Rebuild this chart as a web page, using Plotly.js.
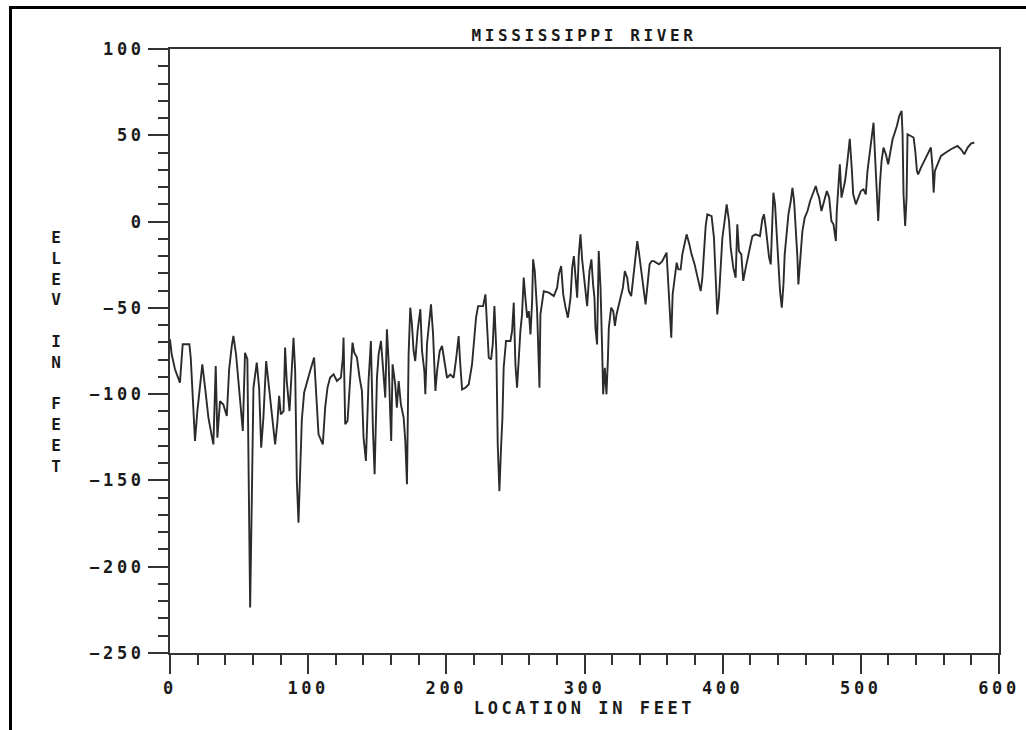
<!DOCTYPE html>
<html>
<head>
<meta charset="utf-8">
<script src="https://cdn.plot.ly/plotly-3.0.1.min.js"></script>
<style>
html,body{margin:0;padding:0;background:#fff;overflow:hidden;}
#chart{position:absolute;left:0;top:0;width:1026px;height:730px;}
#chart svg text{letter-spacing:3.6px;}
#frame{position:absolute;left:9px;top:6px;width:1100px;height:800px;border-top:3px solid #000;border-left:3px solid #000;pointer-events:none;}
</style>
</head>
<body>
<div id="chart"></div>
<div id="frame"></div>
<script>
// Location along the river (feet)
const locationFeet = [
0,1.2,3.6,7.2,9.2,14,15,16.2,18.1,19.8,21.3,23.4,25.4,27.8,30.2,31.4,33.1,34.3,36.2,38.6,
41.1,42.8,44.7,45.9,47.8,49.5,51.2,52.7,54.3,56,57,58,59.2,60.4,62.8,64.5,66,67.6,69.6,71.3,
73.2,76.1,77.8,79,80.2,82.2,83.3,84.5,86.5,87.7,89.4,90.6,91.8,93,94.2,95.4,97.1,99,101.4,104.3,
105.8,107.5,110.6,112.3,114,115.9,118.4,120.8,123.7,125.1,125.6,126.8,128.5,130.4,132.1,133.3,135.3,137.2,138.9,140.1,
141.8,143.7,145.4,146.9,148.1,149.8,151,152.7,154.1,155.8,157,158.2,159.4,160.1,161.1,163,164.2,165.5,167.1,169.1,
170.3,171.5,172.7,173.9,175.1,176.3,177.5,179.2,181.2,182.4,184.1,184.8,186,188,188.9,190.4,192.1,193.3,195.2,196.9,
198.3,200.5,202.9,205.3,207.2,208.9,210.1,211.4,213.8,216.2,218.6,219.8,221.5,223,226.6,228.3,229.5,230.7,232.4,233.6,
234.8,236.2,237.2,238.4,239.6,240.6,241.5,243.2,246.4,247.6,248.8,250,251.2,252.4,253.6,254.8,256,257.2,258.5,259.7,
260.9,262.1,262.8,264,265.7,266.9,267.4,268.1,270.5,274.2,277.8,280.2,281.4,283.1,284.6,286.3,288,289.9,291.1,292.3,
293.5,294.7,295.9,297.1,298.3,300,301.9,303.6,305,306.2,307.2,307.9,309.1,310.3,311.6,312.8,313.5,314.7,315.9,316.9,
317.6,319.3,320.8,322,323.2,324.9,326.1,327.8,329.2,330.9,332.1,333.8,335.3,337,338.2,339.4,340.6,341.8,343,344.2,
345.4,347.1,348.6,350.2,353.9,356.3,359.4,360.4,361.8,362.8,363.8,365.5,366.7,367.9,369.6,370.8,372.5,373.9,375.6,377.5,
379.7,381.6,384.1,385.3,386.5,387.7,388.9,392,393.7,394.9,396.1,397.3,398.6,399.8,401.4,402.9,404.6,405.8,407.7,409.4,
410.6,411.8,413.5,414.9,416.7,419.1,421.5,423.9,427,428.7,429.9,431.2,432.4,433.6,434.8,436,436.7,437.9,439.1,440.3,
441.5,442.8,444,444.9,446.1,447.6,449.3,450.5,451.7,452.9,454.1,454.8,456,457.7,459.4,461.4,463.3,465,467.4,468.6,
469.8,471.5,473.4,475.4,477.1,478.7,480.2,481.9,482.6,483.6,484.8,486,487.4,488.6,490.3,492,493.5,494.5,496.4,498,
500,501.9,503.6,504.8,506.8,508.5,509.2,510.1,511.4,512.6,513.8,515,516.4,518.1,519.8,521.3,523,524.2,526.1,527.8,
529.5,530.2,530.9,532.1,533.1,533.8,536.2,538.2,539.4,540.6,541.5,543.5,547.1,550.7,551.9,552.7,553.6,555.6,558,561.6,
565.2,570,572.5,574.9,577.3,579.7,582.1
];
// Elevation (feet)
const elevationFeet = [
-68.2,-76.9,-85.6,-93.3,-71.1,-71.1,-78.8,-96.2,-127.1,-109.8,-98.2,-82.7,-96.2,-113.6,-124.2,-129.1,-83.7,-125.2,-104,-106,
-112.6,-85.6,-72,-66.3,-76.9,-92.4,-108.8,-121.3,-76,-79.8,-152.3,-223.7,-161.9,-96.2,-81.7,-96.2,-131,-113.6,-80.8,-94.3,
-106.9,-129.1,-115.5,-101,-111.7,-109.8,-73,-92.4,-109.8,-88.5,-67.3,-86.6,-150.3,-174.5,-150.3,-115,-99,-93,-86.6,-78.8,
-102,-123.3,-129.1,-107.8,-96.2,-90.4,-88.5,-92.4,-90.4,-78.8,-67.2,-117.5,-115.5,-92.4,-70.1,-75.9,-78.8,-90.4,-98.1,-125.2,
-138.7,-92.4,-69.2,-121.3,-146.4,-90.4,-76.9,-69.2,-82.7,-102,-62.4,-80.8,-111.7,-127.1,-82.7,-94.3,-107.8,-92.4,-105.9,-113.6,
-127.1,-152.2,-76.9,-49.9,-59.5,-75,-80.8,-63.4,-50.8,-75,-86.6,-100.1,-71.1,-57.6,-47.9,-65.3,-98.2,-86.6,-75,-72.1,
-79,-90.5,-88.6,-90.5,-78.9,-66.3,-82.8,-97.3,-96.3,-94.4,-82.8,-71.2,-55.7,-49,-49,-42.2,-61.5,-78.9,-79.9,-71.2,
-49,-75,-129.1,-156.2,-131.1,-113.7,-84.7,-69.2,-69.2,-63.4,-47,-82.8,-96.3,-78.9,-63.4,-53.8,-32.5,-44.1,-55.7,-51.9,
-65.4,-46.1,-21.9,-28.7,-51.9,-82.8,-96.3,-53.8,-40.3,-41.2,-43.2,-38.3,-30.6,-25.8,-42.2,-49.9,-55.7,-44.1,-26.7,-20,
-34.5,-44.1,-19,-7.4,-22,-34.5,-49,-28.7,-21.9,-36.4,-44.1,-61.5,-71.2,-17.1,-38.3,-75,-100.1,-84.7,-100.1,-80.8,
-61.5,-49.9,-51.9,-60.5,-53.8,-48,-43.2,-38.3,-28.7,-32.5,-40.3,-43.2,-32.5,-18,-11.3,-18,-25.8,-32.5,-41.2,-48,
-38.3,-24.8,-22.9,-22.9,-24.8,-22.9,-18,-32.5,-48,-67.3,-42.2,-30.6,-23.8,-27.7,-27.7,-19,-13.2,-7.4,-12.2,-19,
-24.8,-31.6,-40.3,-32.5,-19,-2.6,4.2,3.2,-9.4,-32.5,-53.8,-44.1,-26.7,-9.4,0.3,10,0.3,-15.1,-26.7,-32.5,
-1.6,-17.1,-19,-34.4,-26.7,-17.1,-8.4,-7.4,-8.4,1.3,4.2,-3.5,-13.2,-20.9,-24.8,0.3,16.7,10,-9.3,-22.8,
-40.2,-49.9,-36.4,-19,-7.4,4.2,11.9,19.6,11.9,-3.5,-20.9,-36.4,-20.9,-5.5,2.3,6.1,11.9,15.8,20.6,16.7,
13.9,6.1,11.9,17.7,13.9,0.3,-1.6,-11.3,6.1,21.6,33.2,13.9,19.6,23.5,35,48,30,15.8,10,14,
17.7,18.7,15.8,29.3,40.9,51.5,57.3,40.9,19.7,0.4,21.6,35.1,42.9,39,33.2,40.9,47.7,50.6,55.4,61.2,
64.1,50.6,15.8,-2.5,13.9,50.6,49.6,48.7,40.9,29.3,27.4,31.3,37.1,42.9,31.3,16.8,29.3,33.2,38,40,
41.9,43.8,41.9,39,42.9,45.2,45.8
];
const chartTitle = 'MISSISSIPPI RIVER';
const xTitle = 'LOCATION IN FEET';
const yTitleLetters = ['E','L','E','V','','I','N','','F','E','E','T'];

const monoFont = 'DejaVu Sans Mono, Liberation Mono, monospace';
const ink = '#1a1a1a';

const trace = {
  x: locationFeet,
  y: elevationFeet,
  type: 'scatter',
  mode: 'lines',
  line: {color: '#2b2b2b', width: 1.9},
  hoverinfo: 'skip'
};

const axisCommon = {
  showgrid: false,
  zeroline: false,
  showline: true,
  mirror: true,
  linecolor: '#333',
  linewidth: 2,
  ticks: 'outside',
  tickwidth: 2,
  tickcolor: '#333',
  tickfont: {family: monoFont, size: 17, color: ink, weight: 'bold'}
};

const layout = {
  width: 1026,
  height: 730,
  margin: {l: 170, r: 27, t: 49, b: 77},
  paper_bgcolor: '#fff',
  plot_bgcolor: '#fff',
  showlegend: false,
  title: {
    text: chartTitle,
    font: {family: monoFont, size: 16, color: ink, weight: 'bold'},
    x: 0.5692, xref: 'container', xanchor: 'center',
    y: 0.951, yref: 'container', yanchor: 'middle'
  },
  xaxis: Object.assign({}, axisCommon, {
    range: [0, 600],
    tick0: 0,
    dtick: 100,
    ticklen: 19,
    minor: {dtick: 20, ticks: 'outside', ticklen: 10, tickwidth: 2, tickcolor: '#333', showgrid: false},
    title: {text: xTitle, font: {family: monoFont, size: 17, color: ink, weight: 'bold'}, standoff: 2}
  }),
  yaxis: Object.assign({}, axisCommon, {
    range: [-250, 100],
    tick0: 0,
    dtick: 50,
    ticklen: 20,
    minor: {dtick: 10, ticks: 'outside', ticklen: 10, tickwidth: 2, tickcolor: '#333', showgrid: false}
  }),
  annotations: [{
    text: yTitleLetters.join('<br>'),
    xref: 'paper', yref: 'paper',
    x: -0.1345, y: 0.498,
    xanchor: 'center', yanchor: 'middle',
    showarrow: false,
    align: 'center',
    font: {family: monoFont, size: 16, color: ink, weight: 'bold'}
  }]
};

Plotly.newPlot('chart', [trace], layout, {staticPlot: true, displayModeBar: false});
</script>
</body>
</html>
